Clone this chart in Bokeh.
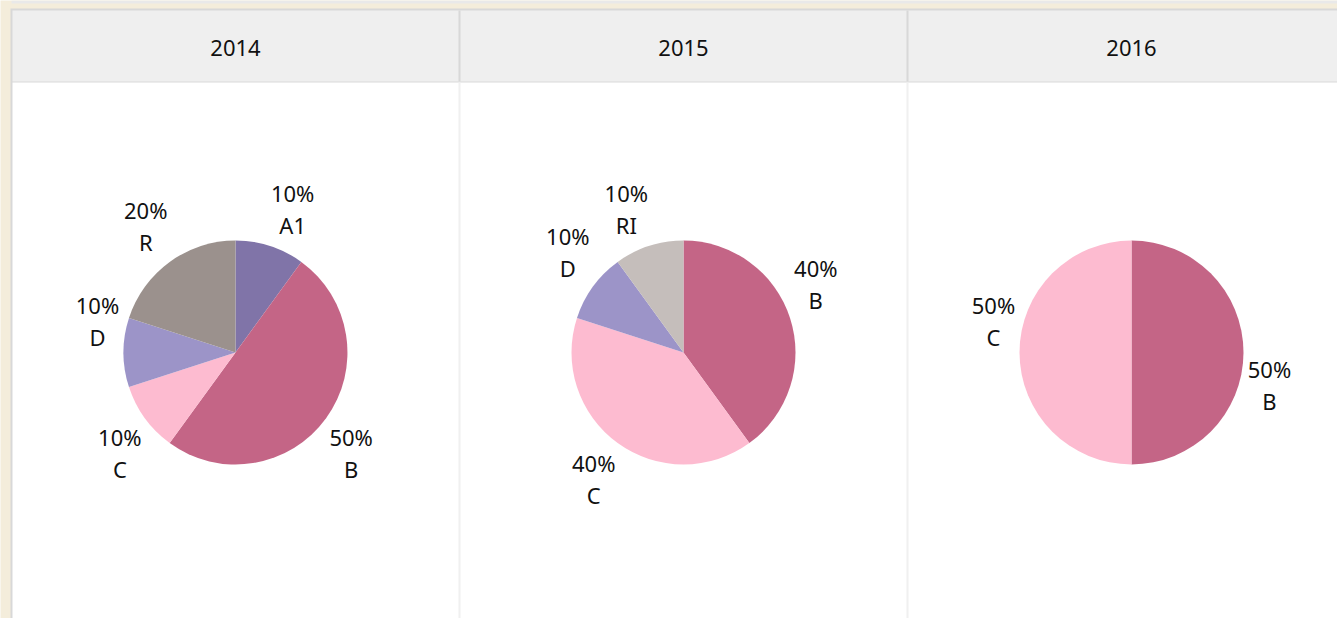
import numpy as np
import pandas as pd
from bokeh.plotting import figure
from bokeh.models import Range1d, ColumnDataSource
from bokeh.embed import file_html
from bokeh.resources import INLINE
from bokeh.core.properties import value

# ---------------- data ----------------
years = ["2014", "2015", "2016"]
cats_2014 = ["A1", "B", "C", "D", "R"]
vals_2014 = [10, 50, 10, 10, 20]
cats_2015 = ["B", "C", "D", "RI"]
vals_2015 = [40, 40, 10, 10]
cats_2016 = ["B", "C"]
vals_2016 = [50, 50]
slice_colors = {"A1": "#8074a8", "B": "#c46586", "C": "#fdbbd0",
                "D": "#9c94c8", "R": "#9b918d", "RI": "#c5bebb"}

series = [(cats_2014, vals_2014), (cats_2015, vals_2015), (cats_2016, vals_2016)]

# ---------------- layout (page pixel helpers) ----------------
W, H = 1337, 618
OX, OY = 0, 0


def X(px):
    return px - OX


def Y(py):
    return OY + H - py


CREAM = "#f4eddb"
BORDER = "#d8d8d8"
HEAD = "#efefef"
FONT = "Noto Sans"
FS = "22px"

p = figure(width=W, height=H, output_backend="svg", toolbar_location=None,
           x_range=Range1d(0, W), y_range=Range1d(0, H), min_border=0,
           background_fill_color=CREAM, border_fill_color=CREAM)
p.axis.visible = False
p.grid.visible = False
p.outline_line_color = None

col_left = [12, 460, 908]
col_w = 446
header_top, header_bot = 10, 81

# top strip
p.quad(left=X(11), right=X(1345), top=Y(0), bottom=Y(3), fill_color="#e9e9e9", line_color=None)
# outer border
p.quad(left=X(10), right=X(1345), top=Y(8), bottom=Y(625), fill_color=BORDER, line_color=None)
# header
p.quad(left=X(12), right=X(1345), top=Y(header_top), bottom=Y(header_bot), fill_color=HEAD, line_color=None)
# body
p.quad(left=X(12), right=X(1345), top=Y(82), bottom=Y(625), fill_color="white", line_color=None)
# dividers
for xl in col_left[1:]:
    p.quad(left=X(xl - 2), right=X(xl), top=Y(header_top), bottom=Y(header_bot), fill_color=BORDER, line_color=None)
    p.quad(left=X(xl - 2), right=X(xl), top=Y(82), bottom=Y(625), fill_color="#f0f0f0", line_color=None)

# header labels
hx = [X(c + col_w / 2) for c in col_left]
p.text(x=hx, y=[Y(47)] * 3, text=years, text_align="center", text_baseline="middle",
       text_font=value(FONT), text_font_size=FS, text_color="#111111")

# pies
R = 112
R_LAB = 117
cy_page = 352
for (cats, vals), cl in zip(series, col_left):
    cx_page = cl + col_w / 2
    df = pd.DataFrame({"cat": cats, "val": vals})
    frac = df["val"] / df["val"].sum()
    cum_after = frac.cumsum()
    cum_before = cum_after - frac
    df["start"] = np.pi / 2 - 2 * np.pi * cum_before
    df["end"] = np.pi / 2 - 2 * np.pi * cum_after
    df["color"] = [slice_colors[c] for c in cats]
    df["x"] = X(cx_page)
    df["y"] = Y(cy_page)
    p.wedge(x="x", y="y", radius=R, start_angle="start", end_angle="end", direction="clock",
            fill_color="color", line_color=None, source=ColumnDataSource(df))

    # labels
    theta = 2 * np.pi * (cum_before + frac / 2)  # clockwise from top
    pct = [f"{int(round(f * 100))}%" for f in frac]
    lx, l1y, l2y = [], [], []
    for t in theta:
        ax = cx_page + R_LAB * np.sin(t)
        ay = cy_page - R_LAB * np.cos(t)
        deg = np.degrees(t)
        side = 1 if deg < 180 else -1
        lower = 90 <= deg < 270
        lx.append(X(ax + side * 21))
        first = ay + 16 if lower else ay - 48
        l1y.append(Y(first))
        l2y.append(Y(first + 32))
    p.text(x=lx, y=l1y, text=pct, text_align="center", text_baseline="middle",
           text_font=value(FONT), text_font_size=FS, text_color="#111111")
    p.text(x=lx, y=l2y, text=cats, text_align="center", text_baseline="middle",
           text_font=value(FONT), text_font_size=FS, text_color="#111111")

open("out.html", "w").write(file_html(p, INLINE))
